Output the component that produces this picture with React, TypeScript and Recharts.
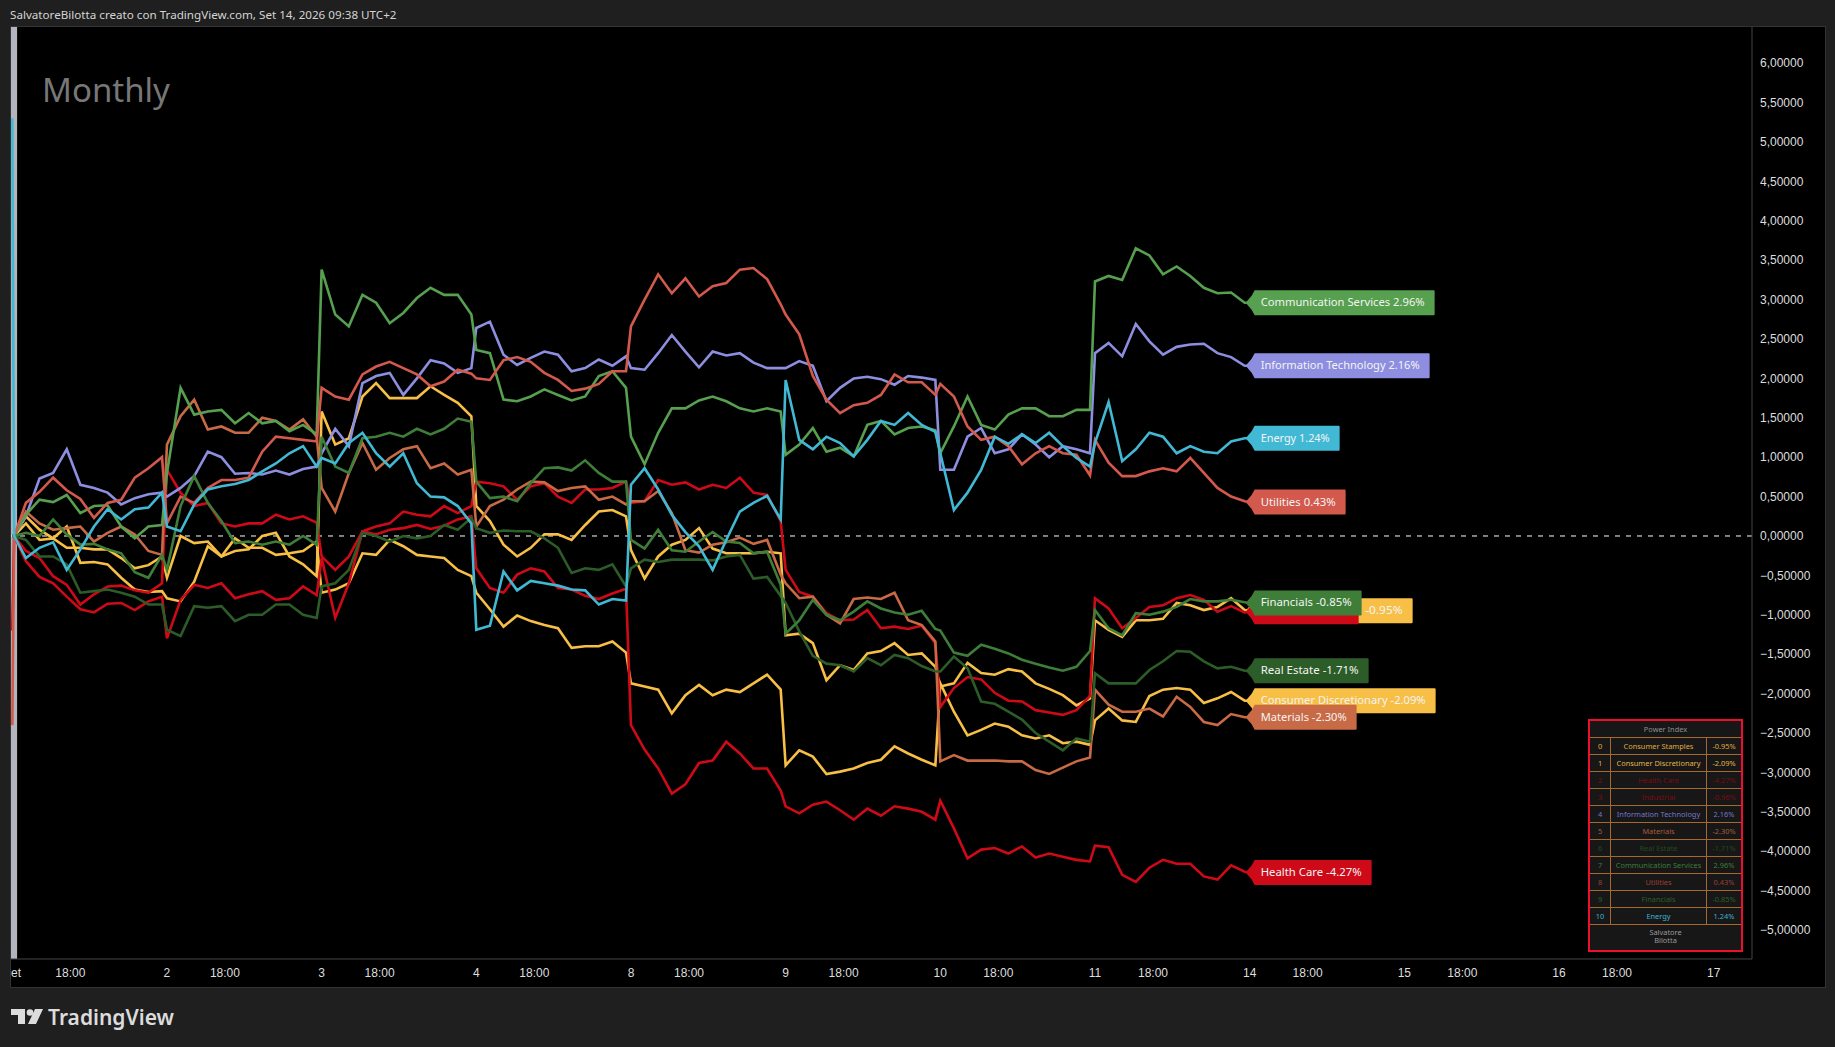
import React from 'react';
import { LineChart, Line, XAxis, YAxis, ReferenceLine, ReferenceArea } from 'recharts';

// time grid in session days, 12 readings per session, jumps sit on the session open
const times: number[] = [0, 0.012];
for (let d = 0; d < 8; d++) {
  for (let j = 0; j < 12; j++) {
    if (d === 0 && j === 0) continue;
    times.push(Number((d + j * 0.088).toFixed(3)));
  }
}
times.push(8);

const staples = [0, 0,
  0.16, -0.05, -0.03, -0.15, -0.15, -0.17, -0.17, -0.28, -0.41, -0.37, -0.26,
  -0.53, 0, -0.09, -0.07, -0.26, -0.19, -0.17, 0, 0.04, -0.26, -0.36, -0.51,
  1.58, 1.16, 1.24, 1.77, 1.94, 1.75, 1.75, 1.75, 1.9, 1.79, 1.69, 1.52,
  0.38, 0.19, -0.11, -0.26, -0.15, 0.02, 0.02, -0.05, 0.14, 0.31, 0.33, 0.25,
  -0.18, -0.54, -0.26, -0.11, -0.05, 0.1, -0.16, -0.22, -0.22, -0.22, -0.2, -0.22,
  -1.26, -1.24, -1.36, -1.83, -1.64, -1.7, -1.49, -1.46, -1.36, -1.51, -1.49, -1.66,
  -1.91, -1.87, -1.61, -1.74, -1.76, -1.69, -1.72, -1.87, -1.94, -2.02, -2.15, -2.06,
  -1.07, -1.19, -1.28, -1.07, -1.07, -1.05, -0.85, -0.88, -0.94, -0.9, -0.79, -0.94,
  -0.95];

const discretionary = [0, 0,
  0.25, 0.08, -0.03, 0.12, -0.34, -0.33, -0.36, -0.53, -0.68, -0.71, -0.7,
  -0.79, -0.83, -0.58, -0.13, -0.26, -0.03, -0.15, -0.15, -0.24, -0.22, -0.19, -0.07,
  -0.72, -0.68, -0.6, -0.22, -0.24, -0.05, -0.13, -0.24, -0.26, -0.28, -0.43, -0.51,
  -0.72, -0.93, -1.15, -1.01, -1.08, -1.13, -1.17, -1.42, -1.4, -1.4, -1.34, -1.48,
  -1.87, -1.91, -1.95, -2.25, -2.02, -1.89, -2.02, -1.95, -1.98, -1.87, -1.76, -1.95,
  -2.91, -2.72, -2.8, -3.02, -2.99, -2.95, -2.88, -2.84, -2.67, -2.76, -2.84, -2.91,
  -1.87, -2.23, -2.53, -2.46, -2.38, -2.42, -2.53, -2.57, -2.53, -2.63, -2.61, -2.65,
  -2.34, -2.19, -2.34, -2.36, -2.03, -1.95, -1.93, -1.95, -2.12, -2.06, -1.98, -2.09,
  -2.09];

const healthCare = [-1.2, 0,
  -0.32, -0.52, -0.6, -0.77, -0.93, -0.97, -0.86, -0.85, -0.94, -0.83, -0.77,
  -1.3, -0.81, -0.62, -0.66, -0.6, -0.79, -0.74, -0.7, -0.81, -0.79, -0.64, -0.75,
  -0.28, -1.04, -0.6, 0.06, 0.02, 0.08, 0.1, 0.14, 0.09, 0.13, 0.21, 0.25,
  -0.41, -0.66, -0.72, -0.49, -0.41, -0.45, -0.66, -0.68, -0.76, -0.8, -0.73, -0.67,
  -2.4, -2.71, -2.95, -3.27, -3.15, -2.88, -2.85, -2.61, -2.76, -2.95, -2.95, -3.23,
  -3.43, -3.52, -3.41, -3.37, -3.48, -3.6, -3.46, -3.55, -3.43, -3.46, -3.5, -3.6,
  -3.36, -3.71, -4.09, -3.98, -3.96, -4.03, -3.94, -4.08, -4.03, -4.07, -4.11, -4.13,
  -3.93, -3.95, -4.3, -4.39, -4.21, -4.11, -4.16, -4.16, -4.32, -4.36, -4.18, -4.26,
  -4.27];

const industrial = [0, 0,
  -0.19, -0.28, -0.51, -0.62, -0.87, -0.74, -0.64, -0.63, -0.69, -0.72, -0.6,
  0.84, 0.55, 0.38, 0.42, 0.16, 0.12, 0.16, 0.16, 0.27, 0.21, 0.25, 0.17,
  -0.26, -0.43, -0.26, 0.06, 0.12, 0.16, 0.31, 0.27, 0.25, 0.38, 0.29, 0.38,
  0.69, 0.67, 0.63, 0.46, 0.63, 0.67, 0.5, 0.42, 0.59, 0.59, 0.61, 0.69,
  0.42, 0.44, 0.71, 0.65, 0.68, 0.59, 0.65, 0.61, 0.74, 0.55, 0.52, 0.19,
  -0.43, -0.71, -0.77, -0.98, -1.07, -1.06, -0.94, -1.17, -1.15, -1.18, -1.14, -1.36,
  -2.17, -1.93, -1.79, -1.82, -1.99, -2.09, -2.1, -2.21, -2.24, -2.27, -2.21, -2.03,
  -0.79, -0.92, -1.17, -1.04, -0.9, -0.88, -0.79, -0.75, -0.81, -0.96, -0.89, -0.97,
  -0.96];

const infoTech = [0, 0,
  0.25, 0.73, 0.8, 1.1, 0.65, 0.61, 0.55, 0.4, 0.48, 0.53, 0.55,
  0.5, 0.61, 0.76, 1.07, 1.0, 0.79, 0.8, 0.78, 0.83, 0.78, 0.85, 0.88,
  1.05, 1.36, 1.14, 1.94, 2.03, 2.07, 1.79, 2.0, 2.23, 2.19, 2.07, 2.13,
  2.64, 2.72, 2.3, 2.17, 2.26, 2.34, 2.3, 2.09, 2.13, 2.24, 2.16, 2.28,
  2.13, 2.11, 2.32, 2.55, 2.34, 2.14, 2.34, 2.29, 2.32, 2.2, 2.13, 2.13,
  2.13, 2.22, 2.16, 1.71, 1.88, 2.0, 2.02, 1.99, 1.92, 2.03, 2.01, 1.98,
  0.84, 0.84, 1.26, 1.37, 1.05, 1.1, 1.29, 1.16, 1.0, 1.14, 1.1, 1.05,
  2.32, 2.45, 2.28, 2.69, 2.47, 2.3, 2.4, 2.43, 2.44, 2.32, 2.27, 2.16,
  2.16];

const materials = [0, 0,
  0.31, 0.16, 0.08, 0.1, 0.12, -0.07, 0.04, 0.12, 0.02, -0.19, -0.24,
  1.16, 1.52, 1.73, 1.35, 1.39, 1.31, 1.31, 1.5, 1.46, 1.35, 1.48, 1.26,
  0.61, 0.31, 0.8, 1.18, 0.84, 0.99, 1.1, 1.14, 0.86, 0.92, 0.78, 0.84,
  0.12, 0.38, 0.46, 0.59, 0.69, 0.68, 0.57, 0.61, 0.63, 0.46, 0.5, 0.4,
  0.44, 0.44, 0.57, 0.29, -0.18, -0.21, -0.11, -0.08, -0.02, -0.1, -0.05, -0.49,
  -0.6, -0.79, -0.77, -1.0, -1.11, -0.8, -0.78, -0.8, -0.72, -1.07, -1.13, -1.34,
  -2.86, -2.78, -2.85, -2.85, -2.85, -2.86, -2.86, -2.97, -3.02, -2.94, -2.86, -2.81,
  -1.95, -2.14, -2.23, -2.23, -2.19, -2.29, -2.04, -2.17, -2.36, -2.4, -2.26, -2.3,
  -2.3];

const realEstate = [0, 0,
  -0.05, -0.26, -0.26, -0.36, -0.72, -0.7, -0.68, -0.72, -0.77, -0.87, -0.87,
  -1.19, -1.27, -0.89, -0.91, -0.89, -1.08, -1.0, -1.0, -0.87, -0.87, -1.0, -1.04,
  -0.64, -0.6, -0.43, 0.04, 0, -0.07, 0, -0.03, 0, 0.14, 0.08, 0.23,
  0.1, 0.04, 0.07, 0.06, 0.06, -0.03, -0.15, -0.47, -0.41, -0.43, -0.36, -0.64,
  -0.41, -0.3, -0.33, -0.3, -0.3, -0.3, -0.31, -0.26, -0.24, -0.54, -0.52, -0.76,
  -0.85, -1.21, -1.52, -1.62, -1.64, -1.72, -1.55, -1.64, -1.51, -1.55, -1.65, -1.72,
  -1.72, -1.53, -1.68, -2.1, -2.13, -2.23, -2.33, -2.5, -2.61, -2.72, -2.57, -2.61,
  -1.74, -1.87, -1.87, -1.87, -1.7, -1.59, -1.46, -1.47, -1.59, -1.68, -1.66, -1.71,
  -1.71];

const commServices = [0, 0,
  0.27, 0.46, 0.43, 0.52, 0.29, 0.38, 0.39, 0.12, -0.03, 0.12, 0.14,
  0.8, 1.88, 1.54, 1.58, 1.6, 1.43, 1.56, 1.43, 1.46, 1.33, 1.41, 1.29,
  3.38, 2.81, 2.66, 3.06, 2.96, 2.7, 2.83, 3.02, 3.15, 3.06, 3.06, 2.81,
  2.36, 2.32, 1.73, 1.71, 1.77, 1.86, 1.79, 1.72, 1.77, 2.03, 2.09, 1.88,
  1.26, 0.91, 1.31, 1.62, 1.62, 1.72, 1.77, 1.71, 1.62, 1.58, 1.62, 1.58,
  1.03, 1.16, 1.37, 1.07, 1.12, 1.01, 1.41, 1.46, 1.29, 1.37, 1.39, 1.34,
  1.05, 1.39, 1.77, 1.41, 1.35, 1.54, 1.62, 1.62, 1.52, 1.52, 1.6, 1.6,
  3.23, 3.3, 3.25, 3.65, 3.56, 3.32, 3.42, 3.3, 3.15, 3.08, 3.09, 2.96,
  2.96];

const utilities = [-2.4, 0,
  0.42, 0.56, 0.74, 0.58, 0.47, 0.23, 0.42, 0.46, 0.74, 0.86, 1.0,
  0.16, 0.5, 0.42, 0.61, 0.71, 0.71, 0.74, 1.07, 1.26, 1.24, 1.22, 1.2,
  1.88, 1.77, 1.73, 2.05, 2.15, 2.21, 2.13, 2.05, 1.9, 1.96, 2.11, 2.06,
  2.0, 1.98, 2.23, 2.27, 2.21, 2.07, 1.98, 1.84, 1.87, 1.93, 2.09, 2.09,
  2.66, 3.0, 3.32, 3.08, 3.27, 3.04, 3.17, 3.21, 3.38, 3.4, 3.26, 2.94,
  2.81, 2.56, 2.03, 1.73, 1.56, 1.66, 1.69, 1.79, 2.05, 1.95, 1.95, 1.79,
  1.93, 1.77, 1.39, 1.22, 1.26, 1.14, 0.91, 1.05, 1.14, 1.05, 1.03, 0.77,
  1.22, 0.93, 0.76, 0.76, 0.82, 0.86, 0.82, 0.99, 0.8, 0.61, 0.5, 0.44,
  0.43];

const financials = [0, 0,
  0.04, 0, 0.21, 0.02, -0.11, -0.1, -0.17, -0.22, -0.46, -0.53, -0.24,
  -0.43, 0.38, 0.76, 0.42, 0.19, -0.09, -0.07, -0.11, -0.07, -0.11, 0, -0.11,
  1.26, 0.88, 0.8, 1.24, 1.26, 1.31, 1.26, 1.36, 1.29, 1.36, 1.49, 1.45,
  0.69, 0.48, 0.5, 0.44, 0.67, 0.86, 0.87, 0.83, 0.96, 0.8, 0.69, 0.69,
  -0.05, -0.16, 0.08, -0.18, -0.2, -0.07, 0.05, -0.07, -0.09, -0.22, -0.2, -0.62,
  -1.24, -1.07, -0.81, -1.0, -1.07, -0.96, -0.83, -0.92, -0.97, -1.0, -0.95, -1.18,
  -1.2, -1.48, -1.52, -1.38, -1.43, -1.49, -1.57, -1.62, -1.67, -1.71, -1.66, -1.46,
  -0.94, -1.17, -1.26, -0.98, -1.0, -0.96, -0.9, -0.8, -0.83, -0.83, -0.81, -0.84,
  -0.85];

const energy = [5.3, 0,
  -0.28, -0.15, -0.08, -0.43, -0.17, 0.12, 0.34, 0.21, 0.34, 0.36, 0.55,
  0.12, 0.06, 0.4, 0.59, 0.63, 0.66, 0.71, 0.82, 0.92, 1.05, 1.14, 0.88,
  0.99, 0.92, 1.18, 1.31, 1.05, 0.88, 1.05, 0.67, 0.5, 0.49, 0.38, 0.16,
  -1.19, -1.14, -0.45, -0.69, -0.57, -0.6, -0.63, -0.68, -0.69, -0.87, -0.8, -0.82,
  0.65, 0.86, 0.59, 0.27, 0.05, -0.13, -0.43, -0.05, 0.31, 0.42, 0.51, 0.21,
  1.98, 1.22, 1.1, 1.26, 1.18, 1.01, 1.22, 1.46, 1.41, 1.56, 1.41, 1.32,
  1.05, 0.33, 0.55, 0.84, 1.26, 1.17, 1.29, 1.18, 1.31, 1.14, 0.99, 0.88,
  1.18, 1.7, 0.95, 1.1, 1.31, 1.26, 1.05, 1.14, 1.07, 1.05, 1.2, 1.24,
  1.24];

const sectorNames = ['Consumer Stamples', 'Consumer Discretionary', 'Health Care', 'Industrial', 'Information Technology', 'Materials', 'Real Estate', 'Communication Services', 'Utilities', 'Financials', 'Energy'];
const tagNames = ['Consumer Staples', 'Consumer Discretionary', 'Health Care', 'Industrial', 'Information Technology', 'Materials', 'Real Estate', 'Communication Services', 'Utilities', 'Financials', 'Energy'];
const changes = ['-0.95%', '-2.09%', '-4.27%', '-0.96%', '2.16%', '-2.30%', '-1.71%', '2.96%', '0.43%', '-0.85%', '1.24%'];
const seriesKeys = ['staples', 'discretionary', 'healthCare', 'industrial', 'infoTech', 'materials', 'realEstate', 'commServices', 'utilities', 'financials', 'energy'];
const seriesValues = [staples, discretionary, healthCare, industrial, infoTech, materials, realEstate, commServices, utilities, financials, energy];

const lineColors = ['#f7bf45', '#f7bf45', '#ce0a18', '#ce0a18', '#8e8ee0', '#c86a45', '#2c5c27', '#56a04f', '#d3594c', '#3e7e39', '#41b9d5'];
const tableColors = ['#e2a83c', '#e6b544', '#7c0c14', '#7c0c14', '#7676c8', '#a65b3c', '#234a1f', '#3f7d39', '#9c3f38', '#2f5f2b', '#3fb3cf'];
const tagWidths = [161, 184, 120, 107, 178, 105, 117, 183, 94, 110, 88];

const xTicks = [0, 0.375, 1, 1.375, 2, 2.375, 3, 3.375, 4, 4.375, 5, 5.375, 6, 6.375, 7, 7.375, 8, 8.375, 9, 9.375, 10, 10.375, 11];
const xTickLabels = ['et', '18:00', '2', '18:00', '3', '18:00', '4', '18:00', '8', '18:00', '9', '18:00', '10', '18:00', '11', '18:00', '14', '18:00', '15', '18:00', '16', '18:00', '17'];
const yTicks = [6, 5.5, 5, 4.5, 4, 3.5, 3, 2.5, 2, 1.5, 1, 0.5, 0, -0.5, -1, -1.5, -2, -2.5, -3, -3.5, -4, -4.5, -5];

const chartData = times.map((t, i) => {
  const row: any = { t };
  seriesKeys.forEach((k, s) => { row[k] = seriesValues[s][i]; });
  return row;
});

const uiFont = '"Noto Sans", sans-serif';
const axisFont = '"Liberation Sans", Arial, sans-serif';

const formatPrice = (v: number) => v.toFixed(5).replace('.', ',').replace('-', '\u2212');

const XTick = ({ x, index }: any) => (
  <text
    x={index === 0 ? 11 : x}
    y={977}
    textAnchor={index === 0 ? 'start' : 'middle'}
    fill="#dedede"
    fontSize={12}
    fontFamily={axisFont}
  >
    {xTickLabels[index]}
  </text>
);

// flag at the end of each line
const endTag = (s: number) => (props: any) => {
  if (props.index !== times.length - 1) return <g />;
  const { x, y } = props;
  const w = tagWidths[s];
  const color = lineColors[s];
  const left = x + 2;
  const path = `M${x - 4},${y} L${left},${y - 7} L${left + 3},${y - 12.5} L${left + w - 1},${y - 12.5} Q${left + w},${y - 12.5} ${left + w},${y - 11.5} L${left + w},${y + 11.5} Q${left + w},${y + 12.5} ${left + w - 1},${y + 12.5} L${left + 3},${y + 12.5} L${left},${y + 7} Z`;
  return (
    <g>
      <path d={path} fill={color} />
      <text
        x={left + 9}
        y={y + 3.5}
        fill="#f4f4f4"
        fontSize={11.5}
        fontFamily={uiFont}
        textLength={w - 19}
        lengthAdjust="spacingAndGlyphs"
      >
        {`${tagNames[s]} ${changes[s]}`}
      </text>
    </g>
  );
};

const cellBorder = '1px solid #a5682e';

const PowerIndex = () => (
  <div style={{ position: 'absolute', left: 1588, top: 719, width: 155, height: 233, boxSizing: 'border-box', border: '2px solid #ee0f2d', background: '#171717', fontFamily: uiFont, fontSize: 7.4, lineHeight: '16px', textAlign: 'center' }}>
    <div style={{ height: 16, color: '#8f8f8f', borderBottom: cellBorder }}>Power Index</div>
    {sectorNames.map((name, i) => (
      <div key={name} style={{ display: 'flex', height: 16, borderBottom: cellBorder, color: tableColors[i] }}>
        <div style={{ width: 20, borderRight: cellBorder }}>{i}</div>
        <div style={{ width: 95, borderRight: cellBorder, whiteSpace: 'nowrap' }}>{name}</div>
        <div style={{ width: 34 }}>{changes[i]}</div>
      </div>
    ))}
    <div style={{ color: '#9a9a9a', lineHeight: '8px', marginTop: 3 }}>Salvatore<br />Bilotta</div>
  </div>
);

const App = () => (
  <div style={{ position: 'fixed', left: 0, top: 0, width: 1835, height: 1047, background: '#1f1f1f', overflow: 'hidden' }}>
    <div style={{ position: 'absolute', left: 10, top: 7, color: '#d4d4d4', fontFamily: uiFont, fontSize: 11.65, whiteSpace: 'nowrap' }}>
      SalvatoreBilotta creato con TradingView.com, Set 14, 2026 09:38 UTC+2
    </div>
    <div style={{ position: 'absolute', left: 10, top: 26, width: 1816, height: 962, boxSizing: 'border-box', background: '#000', border: '1px solid #333' }} />
    <div style={{ position: 'absolute', left: 0, top: 0 }}>
      <LineChart width={1835} height={1047} data={chartData} margin={{ top: 27, left: 11, right: 10, bottom: 60 }}>
        <XAxis
          type="number"
          dataKey="t"
          domain={[-0.0084, 11.248]}
          ticks={xTicks}
          interval={0}
          tick={XTick}
          tickLine={false}
          axisLine={{ stroke: '#444' }}
          height={28}
          allowDataOverflow
        />
        <YAxis
          orientation="right"
          type="number"
          domain={[-5.368, 6.459]}
          ticks={yTicks}
          interval={0}
          tickFormatter={formatPrice}
          tick={{ fill: '#dedede', fontSize: 12, fontFamily: axisFont, textAnchor: 'start' }}
          tickLine={false}
          tickMargin={2}
          axisLine={{ stroke: '#444' }}
          width={73}
          allowDataOverflow
        />
        <ReferenceArea x1={-0.0084} x2={0.031} fill="#b2b5be" fillOpacity={1} stroke="none" />
        <ReferenceLine y={0} stroke="#ffffff" strokeDasharray="5 6" />
        {seriesKeys.map((k, s) => (
          <Line
            key={k}
            type="linear"
            dataKey={k}
            stroke={lineColors[s]}
            strokeWidth={2.6}
            dot={false}
            activeDot={false}
            label={endTag(s)}
            isAnimationActive={false}
          />
        ))}
      </LineChart>
    </div>
    <div style={{ position: 'absolute', left: 42, top: 68, color: '#777', fontFamily: uiFont, fontSize: 33, lineHeight: '44px' }}>Monthly</div>
    <PowerIndex />
    <svg style={{ position: 'absolute', left: 11, top: 1008 }} width={32} height={17} viewBox="0 0 32 17">
      <path d="M0 1 H14 V16 H7 V7 H0 Z M24 1 H32 L25 16 H17 Z" fill="#dcdcdc" />
      <circle cx={19} cy={4.5} r={3.3} fill="#dcdcdc" />
    </svg>
    <div style={{ position: 'absolute', left: 48, top: 1002, color: '#dcdcdc', fontFamily: uiFont, fontSize: 21, fontWeight: 600, lineHeight: '30px' }}>TradingView</div>
  </div>
);

export default App;
